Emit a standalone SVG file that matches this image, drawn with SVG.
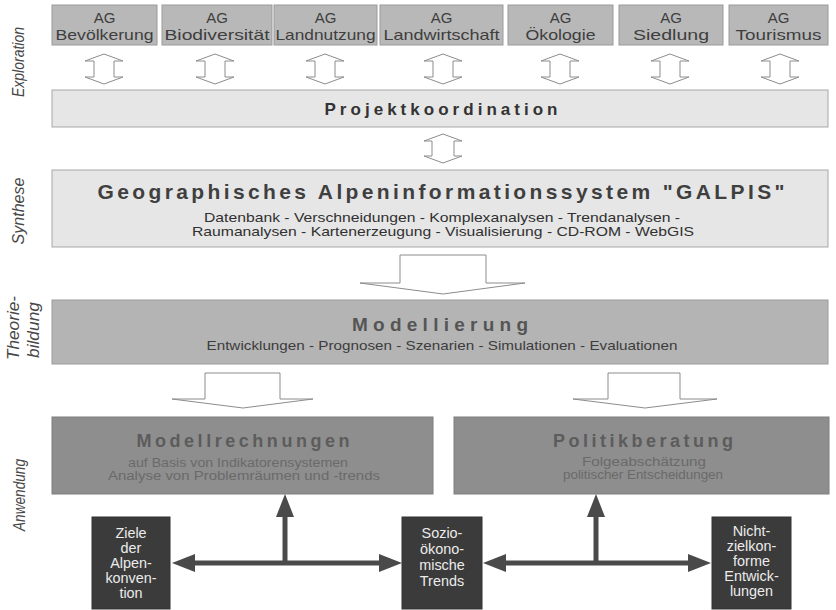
<svg xmlns="http://www.w3.org/2000/svg" width="836" height="610" viewBox="0 0 836 610">
<style>
text{font-family:"Liberation Sans",Arial,sans-serif;}
.side{font-size:16px;font-style:italic;fill:#474747;text-anchor:middle;}
.ag rect{fill:#b8b8b8;stroke:#9a9a9a;stroke-width:1;}
.ag text{font-size:15px;fill:#3e3e3e;text-anchor:middle;}
.hollow{fill:#fff;stroke:#8c8c8c;stroke-width:1;}
.light{fill:#e6e6e6;stroke:#a8a8a8;stroke-width:1;}
.mid{fill:#b4b4b4;stroke:#9c9c9c;stroke-width:1;}
.darkbox{fill:#8e8e8e;stroke:#7e7e7e;stroke-width:1;}
.blk{fill:#3b3b3b;stroke:#333;stroke-width:1;}
.ttl{font-weight:bold;text-anchor:middle;}
.sub{text-anchor:middle;}
.wt{font-size:14.4px;fill:#ececec;text-anchor:middle;}
.thick{stroke:#4a4a4a;stroke-width:5;fill:none;}
</style>
<defs>
<marker id="ah" viewBox="0 0 23 18" refX="0" refY="9" markerWidth="23" markerHeight="18" markerUnits="userSpaceOnUse" orient="auto-start-reverse">
<path d="M0,0 L23,9 L0,18 z" fill="#4a4a4a"/>
</marker>
</defs>

<g id="labels">
<text class="side" x="24" y="62" transform="rotate(-90 24 62)" textLength="70" lengthAdjust="spacingAndGlyphs">Exploration</text>
<text class="side" x="24" y="211" transform="rotate(-90 24 211)" textLength="67" lengthAdjust="spacingAndGlyphs">Synthese</text>
<text class="side" x="19" y="328" transform="rotate(-90 19 328)" textLength="64" lengthAdjust="spacingAndGlyphs">Theorie-</text>
<text class="side" x="39" y="330" transform="rotate(-90 39 330)" textLength="56" lengthAdjust="spacingAndGlyphs">bildung</text>
<text class="side" x="25" y="495" transform="rotate(-90 25 495)" textLength="72" lengthAdjust="spacingAndGlyphs">Anwendung</text>
</g>

<g id="ag-bevoelkerung" class="ag"><rect x="52" y="5" width="105" height="40"/><text x="104.5" y="23">AG</text><text x="104.5" y="40" textLength="98" lengthAdjust="spacingAndGlyphs">Bevölkerung</text></g>
<g id="ag-biodiversitaet" class="ag"><rect x="162" y="5" width="110" height="40"/><text x="217" y="23">AG</text><text x="217" y="40" textLength="105" lengthAdjust="spacingAndGlyphs">Biodiversität</text></g>
<g id="ag-landnutzung" class="ag"><rect x="274" y="5" width="103" height="40"/><text x="325.5" y="23">AG</text><text x="325.5" y="40" textLength="100" lengthAdjust="spacingAndGlyphs">Landnutzung</text></g>
<g id="ag-landwirtschaft" class="ag"><rect x="380" y="5" width="123" height="40"/><text x="441.5" y="23">AG</text><text x="441.5" y="40" textLength="116" lengthAdjust="spacingAndGlyphs">Landwirtschaft</text></g>
<g id="ag-oekologie" class="ag"><rect x="508" y="5" width="105" height="40"/><text x="560.5" y="23">AG</text><text x="560.5" y="40" textLength="70" lengthAdjust="spacingAndGlyphs">Ökologie</text></g>
<g id="ag-siedlung" class="ag"><rect x="619" y="5" width="104" height="40"/><text x="671" y="23">AG</text><text x="671" y="40" textLength="76" lengthAdjust="spacingAndGlyphs">Siedlung</text></g>
<g id="ag-tourismus" class="ag"><rect x="729" y="5" width="99" height="40"/><text x="778.5" y="23">AG</text><text x="778.5" y="40" textLength="86" lengthAdjust="spacingAndGlyphs">Tourismus</text></g>

<g id="projektkoordination">
<rect class="light" x="52" y="90" width="776" height="37"/>
<text class="ttl" x="441" y="115" font-size="17" fill="#333" textLength="233" lengthAdjust="spacing">Projektkoordination</text>
</g>

<g id="galpis">
<rect class="light" x="52" y="170" width="776" height="77" fill="#e8e8e8"/>
<text class="ttl" x="441" y="199" font-size="21" fill="#3f3f3f" textLength="687" lengthAdjust="spacing">Geographisches Alpeninformationssystem "GALPIS"</text>
<text class="sub" x="442" y="222" font-size="13.5" fill="#303030" textLength="476" lengthAdjust="spacingAndGlyphs">Datenbank - Verschneidungen - Komplexanalysen - Trendanalysen -</text>
<text class="sub" x="443" y="236" font-size="13.5" fill="#303030" textLength="502" lengthAdjust="spacingAndGlyphs">Raumanalysen - Kartenerzeugung - Visualisierung - CD-ROM - WebGIS</text>
</g>

<g id="modellierung">
<rect class="mid" x="52" y="300" width="776" height="64"/>
<text class="ttl" x="440" y="331" font-size="19" fill="#555" textLength="176" lengthAdjust="spacing">Modellierung</text>
<text class="sub" x="442" y="350" font-size="13.5" fill="#3c3c3c" textLength="471" lengthAdjust="spacingAndGlyphs">Entwicklungen - Prognosen - Szenarien - Simulationen - Evaluationen</text>
</g>

<g id="modellrechnungen">
<rect class="darkbox" x="52" y="417" width="381" height="77"/>
<text class="ttl" x="243" y="447" font-size="18" fill="#5c5c5c" textLength="213" lengthAdjust="spacing">Modellrechnungen</text>
<text class="sub" x="238" y="467" font-size="12.5" fill="#6a6a6a" textLength="220" lengthAdjust="spacingAndGlyphs">auf Basis von Indikatorensystemen</text>
<text class="sub" x="244" y="480" font-size="12.5" fill="#6a6a6a" textLength="272" lengthAdjust="spacingAndGlyphs">Analyse von Problemräumen und -trends</text>
</g>

<g id="politikberatung">
<rect class="darkbox" x="454" y="417" width="375" height="77"/>
<text class="ttl" x="643" y="447" font-size="18" fill="#5c5c5c" textLength="180" lengthAdjust="spacing">Politikberatung</text>
<text class="sub" x="644" y="466" font-size="12.5" fill="#6a6a6a" textLength="124" lengthAdjust="spacingAndGlyphs">Folgeabschätzung</text>
<text class="sub" x="643" y="479" font-size="12.5" fill="#6a6a6a" textLength="160" lengthAdjust="spacingAndGlyphs">politischer Entscheidungen</text>
</g>

<g id="ziele">
<rect class="blk" x="92" y="517" width="78" height="92"/>
<text class="wt" x="131" y="538">Ziele</text>
<text class="wt" x="131" y="553">der</text>
<text class="wt" x="131" y="568">Alpen-</text>
<text class="wt" x="131" y="583">konven-</text>
<text class="wt" x="131" y="598">tion</text>
</g>

<g id="sozio">
<rect class="blk" x="402" y="517" width="80" height="92"/>
<text class="wt" x="442" y="538">Sozio-</text>
<text class="wt" x="442" y="554">ökono-</text>
<text class="wt" x="442" y="570">mische</text>
<text class="wt" x="442" y="586">Trends</text>
</g>

<g id="nicht">
<rect class="blk" x="712" y="517" width="79" height="92"/>
<text class="wt" x="751.5" y="536">Nicht-</text>
<text class="wt" x="751.5" y="551">zielkon-</text>
<text class="wt" x="751.5" y="566">forme</text>
<text class="wt" x="751.5" y="581">Entwick-</text>
<text class="wt" x="751.5" y="596">lungen</text>
</g>

<g id="connectors">
<polygon class="hollow" points="104,54 123,61 114,61 114,77 123,77 104,84 85,77 94,77 94,61 85,61"/>
<polygon class="hollow" points="215,54 234,61 225,61 225,77 234,77 215,84 196,77 205,77 205,61 196,61"/>
<polygon class="hollow" points="325,54 344,61 335,61 335,77 344,77 325,84 306,77 315,77 315,61 306,61"/>
<polygon class="hollow" points="443,54 462,61 453,61 453,77 462,77 443,84 424,77 433,77 433,61 424,61"/>
<polygon class="hollow" points="560,54 579,61 570,61 570,77 579,77 560,84 541,77 550,77 550,61 541,61"/>
<polygon class="hollow" points="670,54 689,61 680,61 680,77 689,77 670,84 651,77 660,77 660,61 651,61"/>
<polygon class="hollow" points="780,54 799,61 790,61 790,77 799,77 780,84 761,77 770,77 770,61 761,61"/>
<polygon class="hollow" points="443,134 462,141 454,141 454,156 462,156 443,163 424,156 432,156 432,141 424,141"/>
<polygon class="hollow" points="400,255 486,255 486,283 525,283 443,294 360,283 400,283"/>
<polygon class="hollow" points="205,373 280,373 280,399 313,399 243,408 172,399 205,399"/>
<polygon class="hollow" points="608,373 680,373 680,399 717,399 645,408 573,399 608,399"/>
<line class="thick" x1="195" y1="563" x2="379" y2="563" marker-start="url(#ah)" marker-end="url(#ah)"/>
<line class="thick" x1="285" y1="565" x2="285" y2="517" marker-end="url(#ah)"/>
<line class="thick" x1="506" y1="563" x2="688" y2="563" marker-start="url(#ah)" marker-end="url(#ah)"/>
<line class="thick" x1="596" y1="565" x2="596" y2="517" marker-end="url(#ah)"/>
</g>
</svg>
